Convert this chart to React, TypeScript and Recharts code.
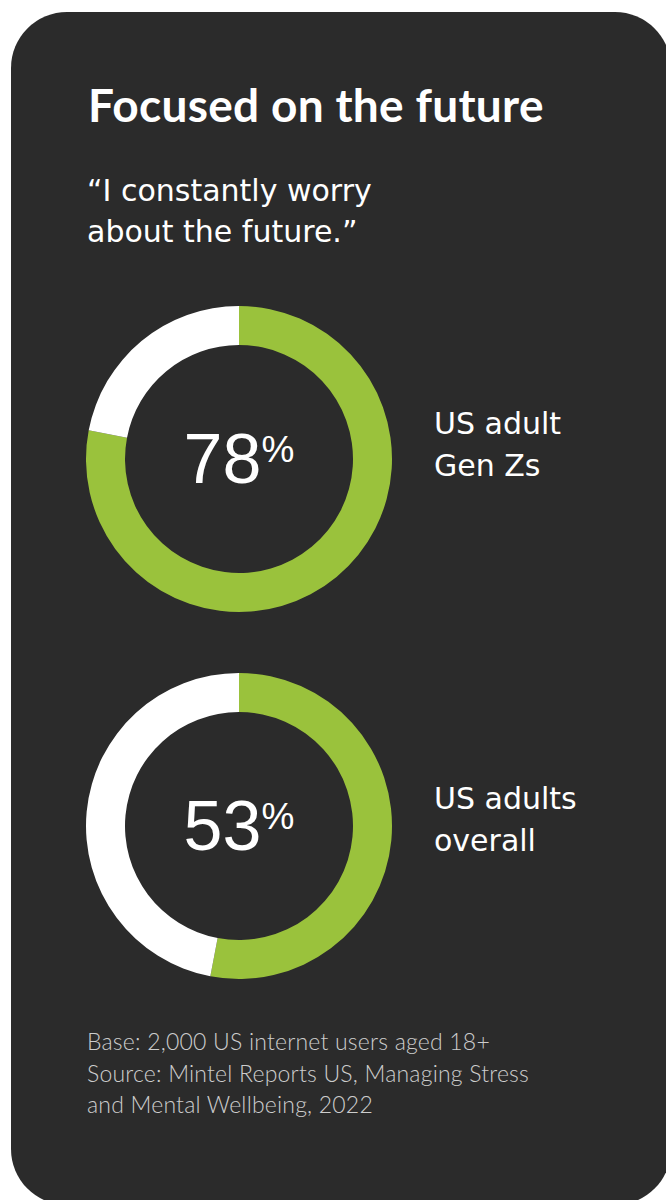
import { PieChart, Pie } from 'recharts';

// chart content
const TITLE = 'Focused on the future';
const QUOTE_LINES = ['\u201CI constantly worry', 'about the future.\u201D'];
const GROUPS = ['US adult Gen Zs', 'US adults overall'];
const GROUP_LINES = [
  ['US adult', 'Gen Zs'],
  ['US adults', 'overall'],
];
const WORRY_SHARE = [78, 53];
const NOTE_LINES = [
  'Base: 2,000 US internet users aged 18+',
  'Source: Mintel Reports US, Managing Stress',
  'and Mental Wellbeing, 2022',
];

const GREEN = '#9ac23c';
const WHITE = '#ffffff';
const CARD_BG = '#2b2b2b';

// layout
const DONUT_CX = 239;
const DONUT_CY = [459, 826];
const LABEL_BASE = [434, 809];
const BOX = 320;

function Donut({ share, cy }: { share: number; cy: number }) {
  const data = [
    { name: 'Worry', value: share, fill: GREEN },
    { name: 'Other', value: 100 - share, fill: WHITE },
  ];
  return (
    <div style={{ position: 'absolute', left: DONUT_CX - BOX / 2, top: cy - BOX / 2 }}>
      <PieChart width={BOX} height={BOX} margin={{ top: 0, right: 0, bottom: 0, left: 0 }}>
        <Pie
          data={data}
          dataKey="value"
          nameKey="name"
          cx="50%"
          cy="50%"
          innerRadius={114}
          outerRadius={153}
          startAngle={90}
          endAngle={-270}
          stroke="none"
          isAnimationActive={false}
        />
      </PieChart>
    </div>
  );
}

export default function App() {
  return (
    <div
      style={{
        position: 'absolute',
        left: 0,
        top: 0,
        width: 666,
        height: 1200,
        overflow: 'hidden',
        background: '#ffffff',
      }}
    >
      <div
        style={{
          position: 'absolute',
          left: 11,
          top: 12,
          width: 660,
          height: 1193,
          borderRadius: 56,
          background: CARD_BG,
        }}
      />
      {GROUPS.map((g, i) => (
        <Donut key={g} share={WORRY_SHARE[i]} cy={DONUT_CY[i]} />
      ))}
      <svg
        width={666}
        height={1200}
        style={{ position: 'absolute', left: 0, top: 0, pointerEvents: 'none' }}
      >
        <text
          x={88}
          y={121.5}
          fill="#fff"
          fontFamily="Lato"
          fontWeight={700}
          fontSize={46}
          letterSpacing={0.3}
        >
          {TITLE}
        </text>
        {QUOTE_LINES.map((l, i) => (
          <text key={l} x={87} y={201 + i * 41} fill="#fff" fontFamily="DejaVu Sans" fontSize={30}>
            {l}
          </text>
        ))}
        {GROUPS.map((g, i) => (
          <g key={g}>
            <text
              x={DONUT_CX}
              y={DONUT_CY[i] + 24}
              fill="#fff"
              fontFamily="Liberation Sans"
              textAnchor="middle"
            >
              <tspan fontSize={70}>{WORRY_SHARE[i]}</tspan>
              <tspan fontSize={37} dy={-21}>%</tspan>
            </text>
            {GROUP_LINES[i].map((l, j) => (
              <text
                key={l}
                x={434}
                y={LABEL_BASE[i] + j * 42}
                fill="#fff"
                fontFamily="DejaVu Sans"
                fontSize={30}
              >
                {l}
              </text>
            ))}
          </g>
        ))}
        {NOTE_LINES.map((l, i) => (
          <text
            key={l}
            x={87}
            y={1050 + i * 31.5}
            fill="#cdcdcd"
            fontFamily="Lato"
            fontWeight={300}
            fontSize={23}
            letterSpacing={0.2}
          >
            {l}
          </text>
        ))}
      </svg>
    </div>
  );
}
